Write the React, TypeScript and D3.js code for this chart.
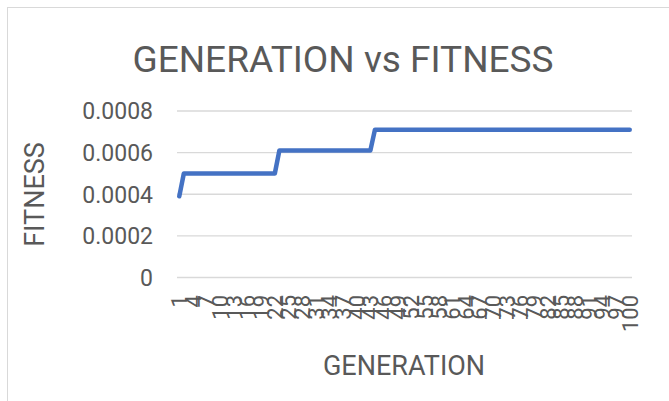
import React from "react";
import * as d3 from "d3";

const generations: number[] = Array.from({ length: 100 }, (_, i) => i + 1);
// fitness levels (step changes)
const stepStarts: number[] = [1, 2, 23, 44];
const stepValues: number[] = [0.00039, 0.0005, 0.00061, 0.00071];
const fitness: number[] = generations.map((g) => {
  let v = stepValues[0];
  stepStarts.forEach((s, i) => {
    if (g >= s) v = stepValues[i];
  });
  return v;
});
const yTicks: number[] = [0, 0.0002, 0.0004, 0.0006, 0.0008];
const xLabelEvery = 3;

const W = 669;
const H = 401;
const FONT = "Roboto, 'Noto Sans', sans-serif";
const TXT = "#595959";
const GRID = "#d9d9d9";

export default function App() {
  const x = d3
    .scaleBand<number>()
    .domain(generations)
    .range([177, 632]);
  const y = d3.scaleLinear().domain([0, 0.0008]).range([277.5, 111]);
  const cx = (g: number) => (x(g) as number) + x.bandwidth() / 2;
  const line = d3
    .line<number>()
    .x((_, i) => cx(generations[i]))
    .y((d) => y(d));
  const fmt = (v: number) => (v === 0 ? "0" : v.toFixed(4));

  return (
    <div style={{ position: "absolute", left: 0, top: 0 }}>
      <svg width={W} height={H} style={{ display: "block", background: "#fff" }}>
        <rect x={7.5} y={7.5} width={W + 20} height={H + 20} fill="#fff" stroke={GRID} strokeWidth={1} />
        <text x={343} y={72} textAnchor="middle" fontFamily={FONT} fontSize={37} fill={TXT}>
          GENERATION vs FITNESS
        </text>
        {yTicks.map((t) => (
          <g key={t}>
            <line x1={177} x2={632} y1={y(t)} y2={y(t)} stroke={GRID} strokeWidth={1.3} />
            <text x={153} y={y(t)} dy="0.36em" textAnchor="end" fontFamily={FONT} fontSize={23} fill={TXT}>
              {fmt(t)}
            </text>
          </g>
        ))}
        {generations
          .filter((g) => (g - 1) % xLabelEvery === 0)
          .map((g) => (
            <text
              key={g}
              transform={`translate(${cx(g)},${295}) rotate(-90)`}
              dy="0.36em"
              textAnchor="end"
              fontFamily={FONT}
              fontSize={22}
              fill={TXT}
            >
              {g}
            </text>
          ))}
        <path d={line(fitness) || ""} fill="none" stroke="#4472C4" strokeWidth={4.5} strokeLinecap="round" strokeLinejoin="round" />
        <text x={404} y={375} textAnchor="middle" fontFamily={FONT} fontSize={27} fill={TXT}>
          GENERATION
        </text>
        <text
          transform={`translate(${44},${194.5}) rotate(-90)`}
          textAnchor="middle"
          fontFamily={FONT}
          fontSize={27}
          fill={TXT}
        >
          FITNESS
        </text>
      </svg>
    </div>
  );
}
